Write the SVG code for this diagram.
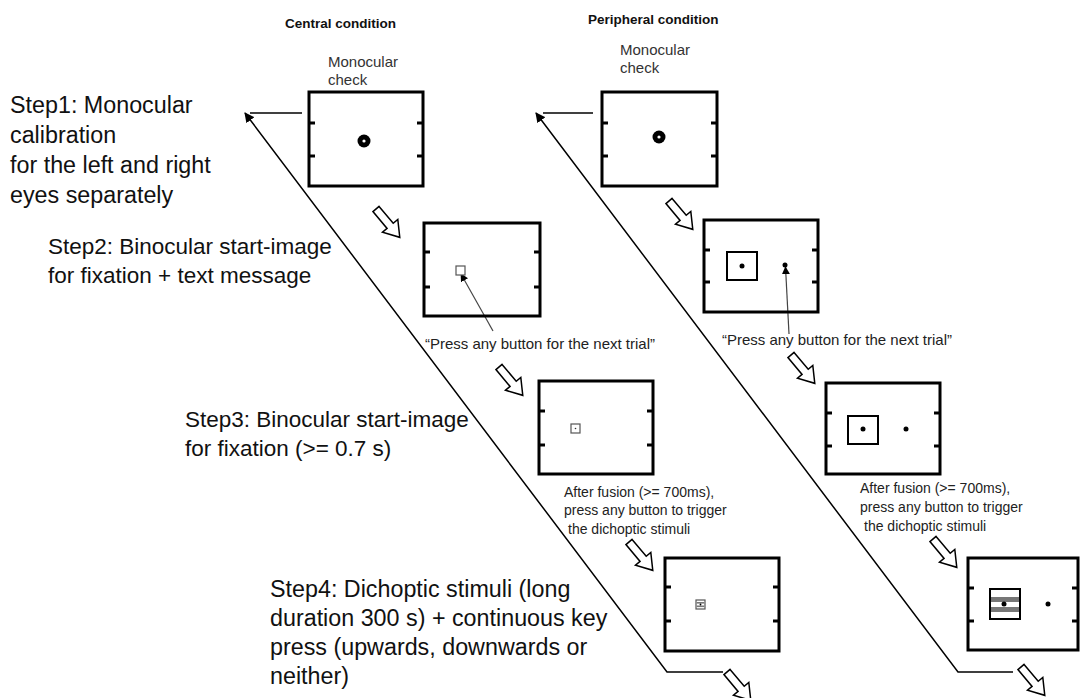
<svg xmlns="http://www.w3.org/2000/svg" width="1081" height="698" viewBox="0 0 1081 698">
<defs>
<style>
.frame{fill:none;stroke:#000;stroke-width:3}
.tick{stroke:#000;stroke-width:3}
.conn{fill:none;stroke:#000;stroke-width:1.5}
.ptr{fill:none;stroke:#444;stroke-width:1.2}
.blk{fill:#fff;stroke:#000;stroke-width:1.5;stroke-linejoin:miter}
.step{font-family:"Liberation Sans",Arial,sans-serif;font-size:23.3px;fill:#111}
.step2{font-family:"Liberation Sans",Arial,sans-serif;font-size:22.5px;fill:#111}
.lbl{font-family:"Liberation Sans",Arial,sans-serif;font-size:14px;fill:#222}
.qt{font-family:"Liberation Sans",Arial,sans-serif;font-size:15px;fill:#222}
.mono{font-family:"Liberation Sans",Arial,sans-serif;font-size:15px;fill:#333}
.hdr{font-family:"Liberation Sans",Arial,sans-serif;font-size:13.5px;font-weight:bold;fill:#111}
.sq{fill:none;stroke:#000;stroke-width:2}
.sqs{fill:#fff;stroke:#555;stroke-width:1.2}
.dot{fill:#000}
.stripe{fill:#777}
</style>
<marker id="ah" viewBox="0 0 10 10" refX="9" refY="5" markerWidth="8" markerHeight="8" markerUnits="userSpaceOnUse" orient="auto">
<path d="M0,0 L10,5 L0,10 Z" fill="#000"/>
</marker>
<marker id="ah2" viewBox="0 0 10 10" refX="9" refY="5" markerWidth="10" markerHeight="10" markerUnits="userSpaceOnUse" orient="auto">
<path d="M0,0 L10,5 L0,10 Z" fill="#000"/>
</marker>
<path id="blockArrow" class="blk" d="M0,-4 L22,-4 L22,-10 L37,0 L22,10 L22,4 L0,4 Z"/>
</defs>

<g id="headers">
<text class="hdr" x="285" y="28">Central condition</text>
<text class="hdr" x="588" y="24">Peripheral condition</text>
</g>

<g id="step-texts">
<text class="step" x="10" y="113">Step1: Monocular</text>
<text class="step" x="10" y="143">calibration</text>
<text class="step" x="10" y="173">for the left and right</text>
<text class="step" x="10" y="203">eyes separately</text>
<text class="step2" x="48" y="254">Step2: Binocular start-image</text>
<text class="step2" x="48" y="283">for fixation + text message</text>
<text class="step2" x="185" y="427">Step3: Binocular start-image</text>
<text class="step2" x="185" y="456">for fixation (&gt;= 0.7 s)</text>
<text class="step" x="270" y="597">Step4: Dichoptic stimuli (long</text>
<text class="step" x="270" y="626">duration 300 s) + continuous key</text>
<text class="step" x="270" y="655">press (upwards, downwards or</text>
<text class="step" x="270" y="684">neither)</text>
</g>

<g id="labels">
<text class="mono" x="328" y="67">Monocular</text>
<text class="mono" x="328" y="85">check</text>
<text class="mono" x="620" y="55">Monocular</text>
<text class="mono" x="620" y="73">check</text>
<text class="qt" x="655" y="349" text-anchor="end">“Press any button for the next trial”</text>
<text class="qt" x="952" y="345" text-anchor="end">“Press any button for the next trial”</text>
<text class="lbl" x="564" y="497">After fusion (&gt;= 700ms),</text>
<text class="lbl" x="564" y="515">press any button to trigger</text>
<text class="lbl" x="568" y="534">the dichoptic stimuli</text>
<text class="lbl" x="860" y="493">After fusion (&gt;= 700ms),</text>
<text class="lbl" x="860" y="512">press any button to trigger</text>
<text class="lbl" x="864" y="531">the dichoptic stimuli</text>
</g>

<g id="connectors">
<line class="conn" x1="302" y1="113" x2="250" y2="113"/>
<polyline class="conn" points="723,672 667,672 245,113" marker-end="url(#ah2)"/>
<line class="conn" x1="593" y1="113" x2="543" y2="113"/>
<polyline class="conn" points="1013,672 958,672 536,113" marker-end="url(#ah2)"/>
<line class="ptr" x1="493" y1="331" x2="461" y2="274" marker-end="url(#ah)"/>
<line class="ptr" x1="789" y1="334" x2="785.5" y2="267" marker-end="url(#ah)"/>
<use href="#blockArrow" transform="translate(376,209) rotate(50)"/>
<use href="#blockArrow" transform="translate(669,201) rotate(50)"/>
<use href="#blockArrow" transform="translate(499,367) rotate(50)"/>
<use href="#blockArrow" transform="translate(791,355) rotate(50)"/>
<use href="#blockArrow" transform="translate(629,542) rotate(50)"/>
<use href="#blockArrow" transform="translate(933,539) rotate(50)"/>
<use href="#blockArrow" transform="translate(727,672) rotate(50)"/>
<use href="#blockArrow" transform="translate(1021,667) rotate(50)"/>
</g>

<g id="central-1">
<rect class="frame" x="309" y="92" width="114" height="94"/>
<line class="tick" x1="309" y1="123" x2="315" y2="123"/>
<line class="tick" x1="309" y1="156" x2="315" y2="156"/>
<line class="tick" x1="423" y1="123" x2="417" y2="123"/>
<line class="tick" x1="423" y1="156" x2="417" y2="156"/>
<circle cx="364" cy="141" r="6.5" fill="#000"/>
<circle cx="364" cy="141" r="1.6" fill="#fff"/>
</g>

<g id="peripheral-1">
<rect class="frame" x="602" y="92" width="115" height="94"/>
<line class="tick" x1="602" y1="123" x2="608" y2="123"/>
<line class="tick" x1="602" y1="156" x2="608" y2="156"/>
<line class="tick" x1="717" y1="123" x2="711" y2="123"/>
<line class="tick" x1="717" y1="156" x2="711" y2="156"/>
<circle cx="659" cy="137" r="6.5" fill="#000"/>
<circle cx="659" cy="137" r="1.6" fill="#fff"/>
</g>

<g id="central-2">
<rect class="frame" x="424" y="223" width="116" height="93"/>
<line class="tick" x1="424" y1="252" x2="430" y2="252"/>
<line class="tick" x1="424" y1="287" x2="430" y2="287"/>
<line class="tick" x1="540" y1="252" x2="534" y2="252"/>
<line class="tick" x1="540" y1="287" x2="534" y2="287"/>
<rect class="sqs" x="456" y="266" width="9" height="9"/>
</g>

<g id="peripheral-2">
<rect class="frame" x="704" y="220" width="114" height="92"/>
<line class="tick" x1="704" y1="250" x2="710" y2="250"/>
<line class="tick" x1="704" y1="282" x2="710" y2="282"/>
<line class="tick" x1="818" y1="250" x2="812" y2="250"/>
<line class="tick" x1="818" y1="282" x2="812" y2="282"/>
<rect class="sq" x="727" y="252" width="30" height="28"/>
<circle class="dot" cx="742" cy="266" r="2.5"/>
<circle class="dot" cx="785" cy="265" r="2.5"/>
</g>

<g id="central-3">
<rect class="frame" x="539" y="381" width="114" height="93"/>
<line class="tick" x1="539" y1="411" x2="545" y2="411"/>
<line class="tick" x1="539" y1="445" x2="545" y2="445"/>
<line class="tick" x1="653" y1="411" x2="647" y2="411"/>
<line class="tick" x1="653" y1="445" x2="647" y2="445"/>
<rect class="sqs" x="571" y="424" width="9" height="9"/>
<circle cx="575.5" cy="428.5" r="0.8" fill="#333"/>
</g>

<g id="peripheral-3">
<rect class="frame" x="826" y="383" width="114" height="91"/>
<line class="tick" x1="826" y1="413" x2="832" y2="413"/>
<line class="tick" x1="826" y1="446" x2="832" y2="446"/>
<line class="tick" x1="940" y1="413" x2="934" y2="413"/>
<line class="tick" x1="940" y1="446" x2="934" y2="446"/>
<rect class="sq" x="848" y="416" width="30" height="28"/>
<circle class="dot" cx="863" cy="429" r="2.5"/>
<circle class="dot" cx="906" cy="429" r="2.5"/>
</g>

<g id="central-4">
<rect class="frame" x="665" y="558" width="114" height="93"/>
<line class="tick" x1="665" y1="587" x2="671" y2="587"/>
<line class="tick" x1="665" y1="621" x2="671" y2="621"/>
<line class="tick" x1="779" y1="587" x2="773" y2="587"/>
<line class="tick" x1="779" y1="621" x2="773" y2="621"/>
<rect class="sqs" x="696" y="600" width="9" height="9"/>
<rect class="stripe" x="696.6" y="602" width="7.8" height="1.6"/>
<rect class="stripe" x="696.6" y="605.5" width="7.8" height="1.6"/>
<circle cx="700.5" cy="604.5" r="0.9" fill="#000"/>
</g>

<g id="peripheral-4">
<rect class="frame" x="968" y="558" width="110" height="92"/>
<line class="tick" x1="968" y1="588" x2="974" y2="588"/>
<line class="tick" x1="968" y1="621" x2="974" y2="621"/>
<line class="tick" x1="1078" y1="588" x2="1072" y2="588"/>
<line class="tick" x1="1078" y1="621" x2="1072" y2="621"/>
<rect class="stripe" x="991" y="597" width="28" height="5"/>
<rect class="stripe" x="991" y="607" width="28" height="5"/>
<rect class="sq" x="990" y="589" width="30" height="30"/>
<circle class="dot" cx="1004" cy="604" r="2.5"/>
<circle class="dot" cx="1048" cy="604" r="2.5"/>
</g>
</svg>
